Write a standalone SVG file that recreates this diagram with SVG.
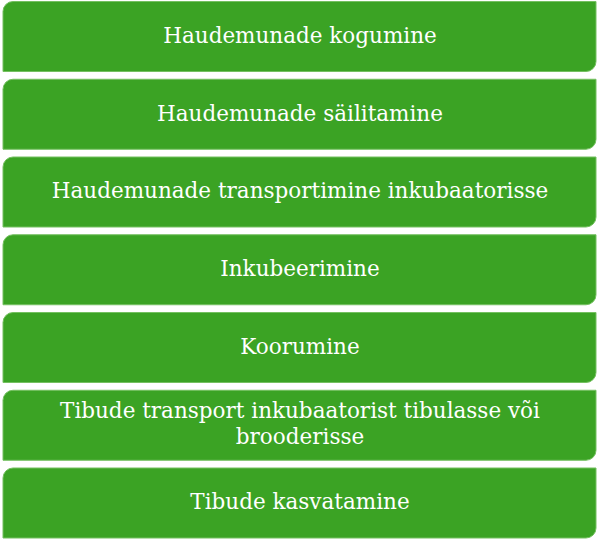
<svg xmlns="http://www.w3.org/2000/svg" width="600" height="541" viewBox="0 0 600 541">
<style>
.box{fill:#3ba324;stroke:#74c060;stroke-width:1}
.t{fill:#ffffff;font-family:"DejaVu Serif","Liberation Serif",serif;font-size:21.5px;text-anchor:middle}
</style>
<rect width="600" height="541" fill="#ffffff"/>
<defs>
<path id="shape" d="M13,0 H596 V60 A10,10 0 0 1 586,70 H3 V10 A10,10 0 0 1 13,0 Z"/>
</defs>
<g id="n1"><use href="#shape" class="box" transform="translate(0,1.5)"/><text class="t" x="300" y="43">Haudemunade kogumine</text></g>
<g id="n2"><use href="#shape" class="box" transform="translate(0,79.25)"/><text class="t" x="300" y="121">Haudemunade säilitamine</text></g>
<g id="n3"><use href="#shape" class="box" transform="translate(0,157)"/><text class="t" x="300" y="198">Haudemunade transportimine inkubaatorisse</text></g>
<g id="n4"><use href="#shape" class="box" transform="translate(0,234.75)"/><text class="t" x="300" y="276">Inkubeerimine</text></g>
<g id="n5"><use href="#shape" class="box" transform="translate(0,312.5)"/><text class="t" x="300" y="354">Koorumine</text></g>
<g id="n6"><use href="#shape" class="box" transform="translate(0,390.25)"/><text class="t" x="300" y="418">Tibude transport inkubaatorist tibulasse või</text><text class="t" x="300" y="444">brooderisse</text></g>
<g id="n7"><use href="#shape" class="box" transform="translate(0,468)"/><text class="t" x="300" y="509">Tibude kasvatamine</text></g>
<g id="connectors"></g>
</svg>
